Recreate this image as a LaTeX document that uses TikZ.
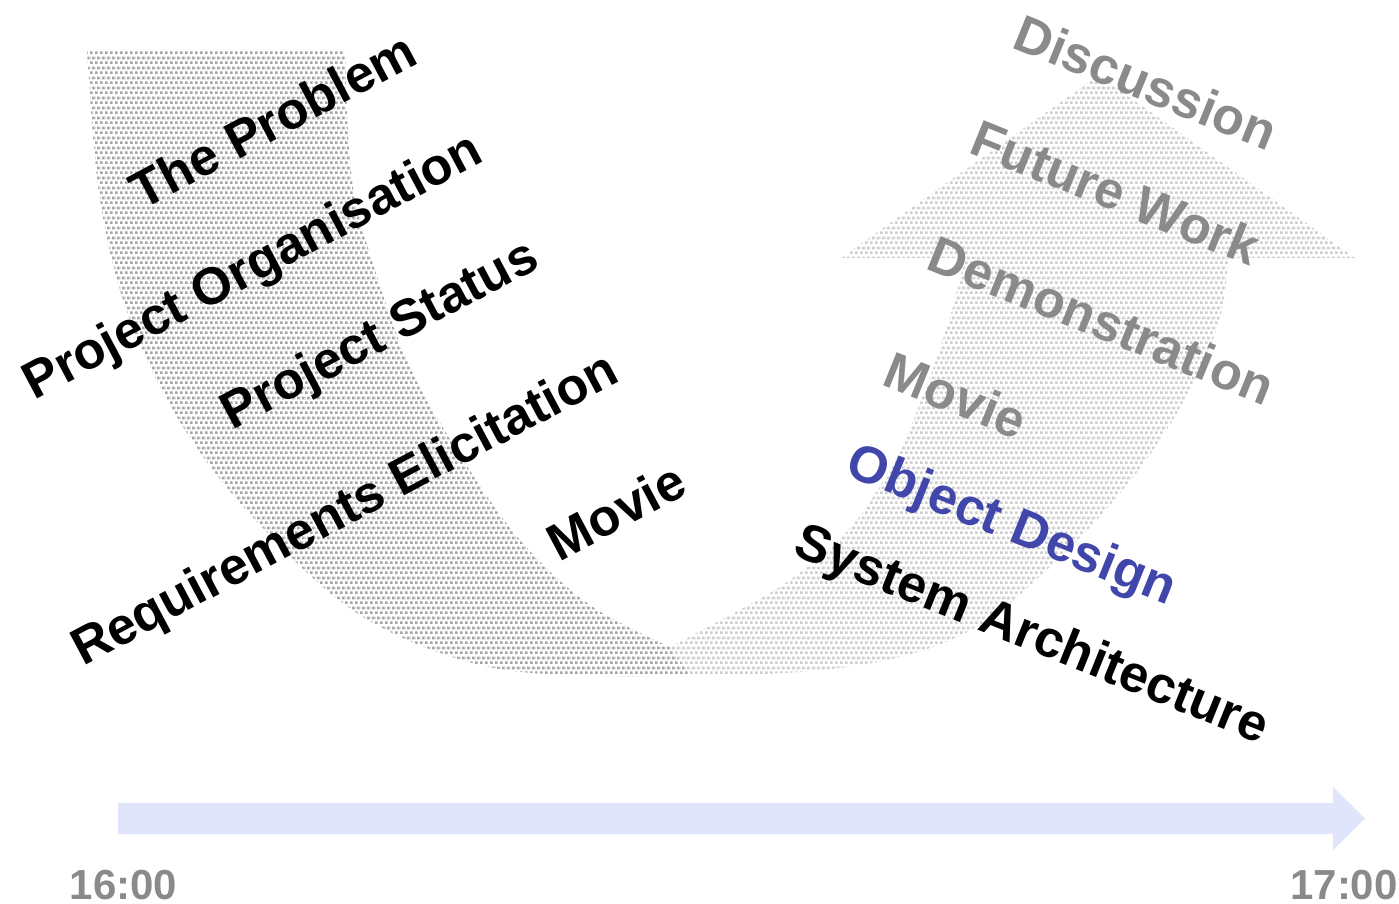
\documentclass[tikz,border=0pt]{standalone}
\usepackage{fontspec}
\setmainfont{Liberation Sans}
\usetikzlibrary{patterns.meta}
\definecolor{darkdots}{RGB}{165,165,165}
\definecolor{lightdots}{RGB}{205,205,205}
\definecolor{txtgray}{RGB}{138,138,138}
\definecolor{txtblue}{RGB}{64,70,170}
\definecolor{tlblue}{RGB}{224,229,252}
\tikzdeclarepattern{
  name=halftone,
  type=uncolored,
  bounding box={(0pt,0pt) and (5pt,10pt)},
  tile size={(5pt,10pt)},
  code={
    \fill (0pt,0pt) rectangle (3pt,3pt);
    \fill (2.5pt,5pt) rectangle (5.5pt,8pt);
    \fill (-2.5pt,5pt) rectangle (0.5pt,8pt);
  }
}
\begin{document}
\begin{tikzpicture}[x=1pt,y=-1pt,
  lbl/.style={inner sep=0pt, font=\fontsize{52}{60}\selectfont\bfseries},
  lrot/.style={rotate=28},
  rrot/.style={rotate=-22},
  desc/.style={text height=37.5pt, text depth=11pt},
  nodesc/.style={text height=37.5pt, text depth=0pt},
  done/.style={text=black},
  later/.style={text=txtgray},
  now/.style={text=txtblue},
  armdark/.style={pattern=halftone, pattern color=darkdots},
  armlight/.style={pattern=halftone, pattern color=lightdots},
  timelbl/.style={inner sep=0pt, anchor=base, text=txtgray, font=\fontsize{42}{50}\selectfont\bfseries}]
\useasboundingbox (0,0) rectangle (1399,904);
% U-turn arrow: left (descending) arm
\fill[armdark] plot[smooth,tension=0.6] coordinates {(87,50) (100,200) (130,320) (185,430) (260,525) (360,615) (480,665) (600,676) (690,675)}
  -- (670,647)
  -- plot[smooth,tension=0.6] coordinates {(670,647) (590,605) (520,540) (460,455) (410,367) (375,270) (352,180) (345,50)}
  -- cycle;
% right (ascending) arm with head
\fill[armlight] plot[smooth,tension=0.6] coordinates {(690,675) (800,672) (900,657) (980,625) (1050,567) (1110,505) (1160,440) (1200,370) (1222,310) (1228,258)}
  -- (1355,258) -- (1099,75) -- (841,258) -- (965,258)
  -- plot[smooth,tension=0.6] coordinates {(965,258) (950,317) (925,390) (895,460) (850,528) (790,580) (730,615) (670,647)}
  -- cycle;
% left labels
\node[lbl,lrot,nodesc,done] (prob) at (273,120) {The Problem};
\node[lbl,lrot,desc,done] (org) at (254,269) {Project Organisation};
\node[lbl,lrot,desc,done] (stat) at (381,337) {Project Status};
\node[lbl,lrot,desc,done] (req) at (346,512) {Requirements Elicitation};
\node[lbl,lrot,nodesc,done] (mov1) at (616,511) {Movie};
% right labels
\node[lbl,rrot,desc,done] (sys) at (1031,637) {System Architecture};
\node[lbl,rrot,desc,now] (obj) at (1011,528) {Object Design};
\node[lbl,rrot,nodesc,later] (mov2) at (956,395) {Movie};
\node[lbl,rrot,nodesc,later] (demo) at (1102,320) {Demonstration};
\node[lbl,rrot,nodesc,later] (fut) at (1116,192) {Future Work};
\node[lbl,rrot,nodesc,later] (disc) at (1146,82) {Discussion};
% timeline
\coordinate (tstart) at (118,818.5);
\coordinate (tend) at (1365,818.5);
\fill[tlblue] (118,803) -- (1333,803) -- (1333,787) -- (tend) -- (1333,850) -- (1333,834) -- (118,834) -- cycle;
\node[timelbl] (t0) at (123.5,899.5) {16:00};
\node[timelbl] (t1) at (1344,899.5) {17:00};
\end{tikzpicture}
\end{document}
